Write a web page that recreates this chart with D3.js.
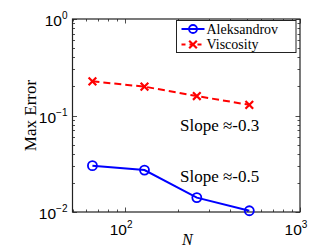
<!DOCTYPE html>
<html>
<head>
<meta charset="utf-8">
<script src="https://cdn.jsdelivr.net/npm/d3@7"></script>
<style>
  html, body { margin: 0; padding: 0; background: #fff; }
  svg { display: block; }
</style>
</head>
<body>
<div class="chart"></div>
<script>
// data
let nValues = [65, 129, 257, 513]
let aleksandrov = [0.0302, 0.0272, 0.0141, 0.0103]
let viscosity = [0.226, 0.199, 0.159, 0.129]
let seriesNames = ['Aleksandrov', 'Viscosity']
let xMajor = [100, 1000]
let yMajor = [0.01, 0.1, 1]
let slopeNotes = [
  { text: 'Slope \u2248-0.3', n: 206, v: 0.069 },
  { text: 'Slope \u2248-0.5', n: 206, v: 0.0205 }
]

let width = 332
let height = 250
let box = { left: 72.5, right: 300, top: 19, bottom: 212 }

let svg = d3.select('.chart').append('svg')
  .attr('width', width)
  .attr('height', height)

let x = d3.scaleLog().domain([50, 1000]).range([box.left, box.right])
let y = d3.scaleLog().domain([0.01, 1]).range([box.bottom, box.top])

// minor ticks from the log scales
let isMajor = (list, d) => list.some(v => Math.abs(v - d) / v < 1e-6)
let xMinor = x.ticks().filter(d => !isMajor(xMajor, d))
let yMinor = y.ticks().filter(d => !isMajor(yMajor, d))

let tickG = svg.append('g').attr('stroke', '#222').attr('stroke-width', 0.8)
function drawXTicks (vals, len) {
  vals.forEach(v => {
    let px = Math.round(x(v)) + 0.5
    tickG.append('line').attr('x1', px).attr('x2', px).attr('y1', box.bottom).attr('y2', box.bottom - len)
    tickG.append('line').attr('x1', px).attr('x2', px).attr('y1', box.top).attr('y2', box.top + len)
  })
}
function drawYTicks (vals, len) {
  vals.forEach(v => {
    let py = Math.round(y(v)) + 0.5
    tickG.append('line').attr('y1', py).attr('y2', py).attr('x1', box.left).attr('x2', box.left + len)
    tickG.append('line').attr('y1', py).attr('y2', py).attr('x1', box.right).attr('x2', box.right - len)
  })
}
drawXTicks(xMinor, 2.5)
drawXTicks(xMajor, 4.5)
drawYTicks(yMinor, 2.5)
drawYTicks(yMajor, 4.5)

// axes box
svg.append('rect')
  .attr('x', box.left).attr('y', box.top)
  .attr('width', box.right - box.left).attr('height', box.bottom - box.top)
  .attr('fill', 'none').attr('stroke', '#222').attr('stroke-width', 1.2)

// tick labels
let sans = '"Liberation Sans", Arial, sans-serif'
let serif = '"Liberation Serif", "Times New Roman", serif'
xMajor.forEach(v => {
  let t = svg.append('text')
    .attr('x', x(v) - 4).attr('y', box.bottom + 23)
    .attr('text-anchor', 'middle')
    .attr('font-family', sans).attr('font-size', 15.5)
  t.append('tspan').text('10')
  t.append('tspan').attr('font-size', 10).attr('dy', -7).text(Math.round(Math.log10(v)))
})
yMajor.forEach(v => {
  let e = Math.round(Math.log10(v))
  let t = svg.append('text')
    .attr('x', box.left - 5).attr('y', y(v) + 7)
    .attr('text-anchor', 'end')
    .attr('font-family', sans).attr('font-size', 15.5)
  t.append('tspan').text('10')
  t.append('tspan').attr('font-size', 10).attr('dy', -7).text(e < 0 ? '\u2212' + (-e) : e)
})

// axis titles
svg.append('text')
  .attr('transform', 'translate(36,' + ((box.top + box.bottom) / 2) + ') rotate(-90)')
  .attr('text-anchor', 'middle')
  .attr('font-family', serif).attr('font-size', 17)
  .text('Max Error')
svg.append('text')
  .attr('x', (box.left + box.right) / 2 + 1).attr('y', 245)
  .attr('text-anchor', 'middle')
  .attr('font-family', serif).attr('font-style', 'italic').attr('font-size', 16)
  .text('N')

// lines
let line = d3.line().x(d => x(d[0])).y(d => y(d[1]))
let aData = d3.zip(nValues, aleksandrov)
let vData = d3.zip(nValues, viscosity)

svg.append('path').datum(vData)
  .attr('d', line).attr('fill', 'none')
  .attr('stroke', '#ff0000').attr('stroke-width', 2).attr('stroke-dasharray', '7,4')
svg.append('path').datum(aData)
  .attr('d', line).attr('fill', 'none')
  .attr('stroke', '#0000ff').attr('stroke-width', 2)

// markers
svg.selectAll('.m-circle').data(aData).enter().append('circle')
  .attr('class', 'm-circle')
  .attr('cx', d => x(d[0])).attr('cy', d => y(d[1])).attr('r', 4.5)
  .attr('fill', 'none').attr('stroke', '#0000ff').attr('stroke-width', 1.8)
let cross = d3.symbol().type(d3.symbolX).size(40)
svg.selectAll('.m-x').data(vData).enter().append('path')
  .attr('class', 'm-x')
  .attr('transform', d => 'translate(' + x(d[0]) + ',' + y(d[1]) + ')')
  .attr('d', cross)
  .attr('fill', 'none').attr('stroke', '#ff0000').attr('stroke-width', 2.2)

// annotations
slopeNotes.forEach(s => {
  svg.append('text')
    .attr('x', x(s.n)).attr('y', y(s.v))
    .attr('font-family', serif).attr('font-size', 17)
    .text(s.text)
})

// legend
let lg = svg.append('g').attr('transform', 'translate(176.5,20.5)')
lg.append('rect')
  .attr('width', 119.5).attr('height', 32)
  .attr('fill', '#fff').attr('stroke', '#222').attr('stroke-width', 1)
seriesNames.forEach((name, i) => {
  let cy = 8.5 + i * 15.5
  let row = lg.append('g').attr('transform', 'translate(0,' + cy + ')')
  if (i === 0) {
    row.append('line').attr('x1', 5).attr('x2', 28).attr('y1', 0).attr('y2', 0)
      .attr('stroke', '#0000ff').attr('stroke-width', 2)
    row.append('circle').attr('cx', 16.5).attr('cy', 0).attr('r', 4)
      .attr('fill', 'none').attr('stroke', '#0000ff').attr('stroke-width', 1.8)
  } else {
    row.append('line').attr('x1', 5).attr('x2', 28).attr('y1', 0).attr('y2', 0)
      .attr('stroke', '#ff0000').attr('stroke-width', 2).attr('stroke-dasharray', '4,4')
    row.append('path').attr('transform', 'translate(16.5,0)').attr('d', cross)
      .attr('fill', 'none').attr('stroke', '#ff0000').attr('stroke-width', 2.2)
  }
  row.append('text')
    .attr('x', 30).attr('y', 4.5)
    .attr('font-family', serif).attr('font-size', 14)
    .text(name)
})
</script>
</body>
</html>
